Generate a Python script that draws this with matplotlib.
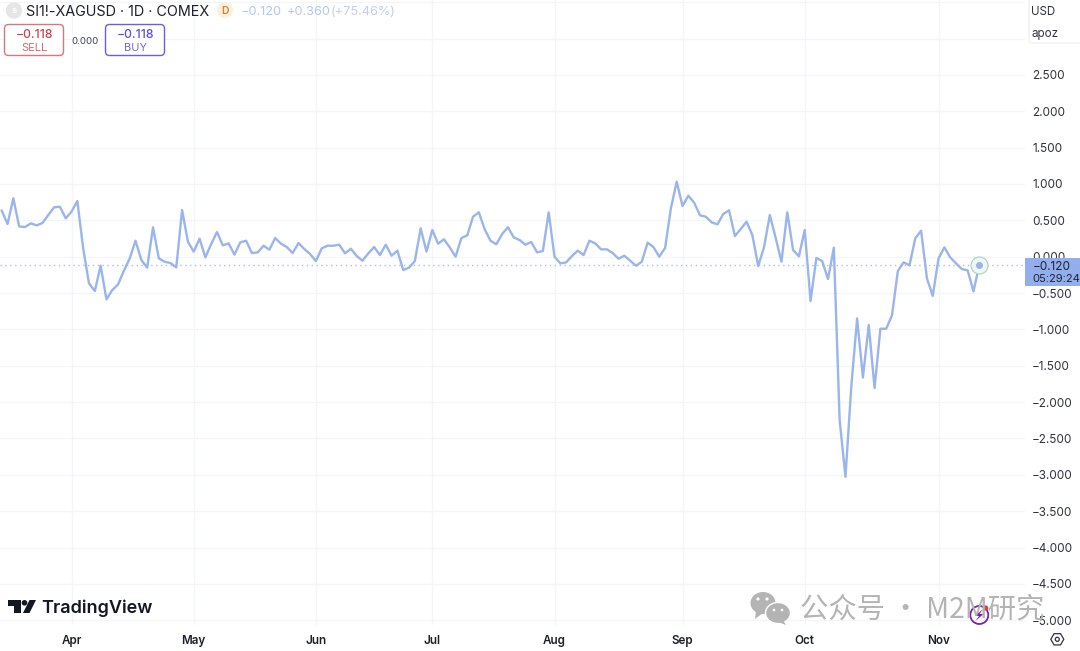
#!/bin/python

import numpy as np
import matplotlib
matplotlib.use('Agg')
import matplotlib.pyplot as plt
from matplotlib.patches import Circle, Ellipse, FancyBboxPatch, Polygon, Rectangle, RegularPolygon

plt.rcParams['font.family'] = ['Inter', 'DejaVu Sans']

# spread values, one per trading day
spread = [
    0.633, 0.450, 0.803, 0.417, 0.408, 0.459, 0.431, 0.463, 0.573, 0.679,
    0.688, 0.528, 0.619, 0.766, 0.115, -0.367, -0.472, -0.124, -0.587, -0.459,
    -0.381, -0.193, -0.023, 0.220, -0.046, -0.151, 0.404, -0.023, -0.069, -0.087,
    -0.147, 0.642, 0.206, 0.069, 0.248, -0.009, 0.174, 0.339, 0.156, 0.183,
    0.028, 0.197, 0.220, 0.050, 0.060, 0.151, 0.096, 0.257, 0.179, 0.133,
    0.050, 0.188, 0.106, 0.037, -0.060, 0.115, 0.151, 0.151, 0.165, 0.046,
    0.110, 0.009, -0.055, 0.046, 0.133, 0.023, 0.165, 0.014, 0.083, -0.183,
    -0.151, -0.060, 0.390,
    0.069, 0.367, 0.179, 0.239, 0.128, 0.000, 0.257, 0.294, 0.550, 0.610,
    0.376, 0.220, 0.170, 0.312, 0.404, 0.266, 0.229, 0.165, 0.202, 0.060,
    0.078, 0.610, 0.000, -0.092, -0.078, 0.009, 0.083, 0.023, 0.220, 0.183,
    0.101, 0.101, 0.050, -0.028, 0.014, -0.055, -0.124, -0.069, 0.193, 0.133,
    0.000, 0.119, 0.665, 1.032, 0.697, 0.839, 0.743, 0.569, 0.550, 0.472,
    0.445, 0.587, 0.638, 0.284, 0.381, 0.482,
    0.298, -0.128, 0.128, 0.573, 0.261, -0.069, 0.610, 0.092, 0.005, 0.367,
    -0.610, -0.018, -0.060, -0.307, 0.124, -2.248, -3.028, -1.789, -0.849, -1.661,
    -0.940, -1.807, -0.991, -0.991, -0.807, -0.197, -0.078, -0.119, 0.252, 0.358,
    -0.298, -0.537, -0.023, 0.128, -0.009, -0.092, -0.170, -0.188, -0.477, -0.115,
]
months = ['Apr', 'May', 'Jun', 'Jul', 'Aug', 'Sep', 'Oct', 'Nov']
month_idx = [12, 33, 54, 74, 95, 117, 138, 161]
price_ticks = [3.5, 3.0, 2.5, 2.0, 1.5, 1.0, 0.5, 0.0, -0.5, -1.0, -1.5, -2.0, -2.5, -3.0, -3.5, -4.0, -4.5, -5.0]
last_price = -0.120

W, H = 1080, 651
PLOT_W, PLOT_H = 1025, 625
LINE = '#9ab4ec'
GRID = '#f4f5f9'


def price_label(v):
    if v >= 3.0:
        return ''
    return '{0:.3f}'.format(v).replace('-', '\u2212')


fig = plt.figure(figsize=(W / 100, H / 100), dpi=100)
ax = fig.add_axes([0, 1 - PLOT_H / H, PLOT_W / W, PLOT_H / H])

x = np.arange(len(spread))
step = (979.3 - 1.7) / (len(spread) - 1)
ax.set_xlim(-1.7 / step, (PLOT_W - 1.7) / step)
ax.set_ylim((256.7 - PLOT_H) / 72.7, 256.7 / 72.7)

ax.plot(x, spread, color=LINE, lw=1.7, solid_joinstyle='round', zorder=3)
ax.axhline(last_price, color='#abbeef', lw=1, ls=(0, (1, 2.5)), zorder=2)

ax.set_xticks(month_idx)
ax.set_xticklabels([])
ax.set_yticks(price_ticks)
ax.set_yticklabels([price_label(v) for v in price_ticks], fontsize=8.5, color='#2f333d')
ax.yaxis.tick_right()
ax.tick_params(axis='both', length=0)
ax.tick_params(axis='y', pad=5.2)
ax.grid(True, color=GRID, lw=1)
ax.set_axisbelow(True)
for s in ax.spines.values():
    s.set_visible(False)

# last point marker
ax.scatter([x[-1]], [spread[-1]], s=150, facecolor='#eef7f3', edgecolor='#a9d3bb', lw=0.8, zorder=4)
ax.scatter([x[-1]], [spread[-1]], s=16, color=LINE, zorder=5)

# overlay in pixel coordinates for the platform furniture
ov = fig.add_axes([0, 0, 1, 1])
ov.set_xlim(0, W)
ov.set_ylim(H, 0)
ov.axis('off')
ov.patch.set_alpha(0)

# month labels
for idx, name in zip(month_idx, months):
    ov.text(1.7 + idx * step, 641, name, ha='center', va='center', fontsize=8.4, weight='semibold', color='#1c2029')

# header
ov.add_patch(Circle((14, 10.5), 7.5, color='#e6e6e6'))
ov.text(14, 11, 'S', ha='center', va='center', fontsize=5.5, color='white', weight='bold')
ov.text(26, 12, 'SI1!-XAGUSD \u00b7 1D \u00b7 COMEX', va='center', fontsize=10.35, color='#1d212b')
ov.add_patch(Circle((225, 10), 7.5, color='#fdf0e0'))
ov.text(225, 11, 'D', ha='center', va='center', fontsize=7.5, color='#d9822b', weight='semibold')
ov.text(241, 12, '\u22120.120', va='center', fontsize=9.2, color='#b7c6ee')
ov.text(287, 12, '+0.360', va='center', fontsize=9.2, color='#b7c6ee')
ov.text(331, 12, '(+75.46%)', va='center', fontsize=9.2, color='#c3cff0')

# sell and buy boxes
ov.add_patch(FancyBboxPatch((8, 28), 52, 24, boxstyle='round,pad=3.5,rounding_size=4', fc='white', ec='#d3787f', lw=1))
ov.text(34.5, 35, '\u22120.118', ha='center', va='center', fontsize=8.8, color='#c2444f', weight='medium')
ov.text(34.5, 48, 'SELL', ha='center', va='center', fontsize=7.9, color='#cf6a72')
ov.text(85, 41.5, '0.000', ha='center', va='center', fontsize=6.9, color='#3a3e48')
ov.add_patch(FancyBboxPatch((109, 28), 52, 24, boxstyle='round,pad=3.5,rounding_size=4', fc='white', ec='#6a5fdc', lw=1))
ov.text(135, 35, '\u22120.118', ha='center', va='center', fontsize=8.8, color='#5a4fd6', weight='medium')
ov.text(135, 48, 'BUY', ha='center', va='center', fontsize=7.9, color='#6f66dc')

# currency box top right
ov.add_patch(FancyBboxPatch((1029, -10), 60, 53, boxstyle='round,pad=0,rounding_size=3', fc='white', ec='#eff0f4', lw=1))
ov.text(1031.5, 12, 'USD', va='center', fontsize=8.3, color='#2f333d')
ov.text(1031.5, 34, 'apoz', va='center', fontsize=8.3, color='#2f333d')

# last price tag
ov.add_patch(Rectangle((1025, 258), 55, 28, color='#93aeec', lw=0))
ov.text(1032.5, 266.5, '\u22120.120', va='center', fontsize=8.5, color='#1f2430')
ov.text(1032.5, 279, '05:29:24', va='center', fontsize=8, color='#1f2430')

# tradingview logo
ov.add_patch(Polygon([(8, 600), (20.5, 600), (20.5, 613), (14, 613), (14, 605.5), (8, 605.5)], color='#131722', lw=0))
ov.add_patch(Circle((24.5, 602.8), 2.8, color='#131722', lw=0))
ov.add_patch(Polygon([(29.5, 600), (36, 600), (29.5, 613), (23, 613)], color='#131722', lw=0))
ov.text(41.5, 608, 'TradingView', va='center', fontsize=13, weight='semibold', color='#131722')

# wechat watermark
WM = '#b4b4b4'
ov.add_patch(Ellipse((763, 603), 25, 22, color=WM, lw=0))
ov.add_patch(Polygon([(756, 611), (755, 619), (763, 613)], color=WM, lw=0))
ov.add_patch(Ellipse((778, 613), 25, 21, color=WM, ec='white', lw=1))
ov.add_patch(Polygon([(783, 620), (786, 625), (778, 622)], color=WM, lw=0))
for ex, ey, er in [(758, 599, 1.6), (767, 599, 1.6), (774, 610, 1.3), (782, 610, 1.3)]:
    ov.add_patch(Circle((ex, ey), er, color='white', lw=0))
ov.text(800, 610, '\u516c\u4f17\u53f7 \u00b7 M2M\u7814\u7a76', va='center', fontsize=20.4, color=WM,
        family=['Noto Sans CJK SC', 'DejaVu Sans'])

# purple lightning badge
ov.add_patch(Circle((979.3, 615), 9, fc='none', ec='#7b22a8', lw=1.3))
ov.add_patch(Polygon([(983, 609), (975, 616), (979, 616), (975.5, 621), (983.5, 614), (979.5, 614)], color='#7b22a8', lw=0))
ov.add_patch(Circle((985.7, 608), 2.6, color='#d9413a', lw=0))

# settings gear
ov.add_patch(RegularPolygon((1057.3, 639.3), 6, radius=6.5, orientation=np.pi / 6, fc='white', ec='#2f333d', lw=0.9))
ov.add_patch(Circle((1057.3, 639.3), 2, fc='white', ec='#2f333d', lw=0.9))

fig.savefig('out.png', dpi=100)
